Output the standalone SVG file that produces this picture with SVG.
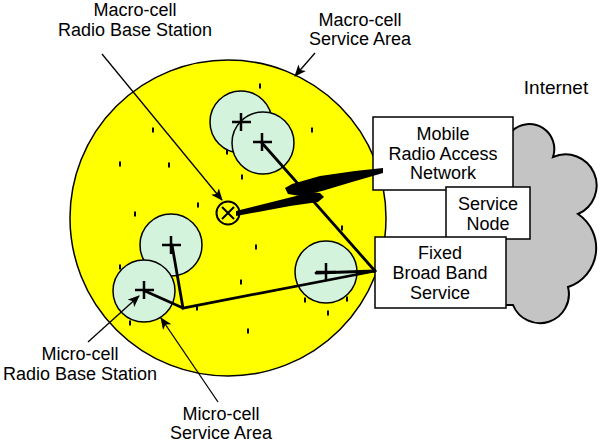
<svg xmlns="http://www.w3.org/2000/svg" width="600" height="442" viewBox="0 0 600 442">
<defs>
<style>
text{font-family:"Liberation Sans",Arial,sans-serif;font-size:18px;fill:#000;text-anchor:middle}
.macro{fill:#ffff00;stroke:#000;stroke-width:1.5}
.micro{fill:#d3f3dc;stroke:#000;stroke-width:1.5}
.tick{stroke:#000;stroke-width:2;fill:none}
.cross{stroke:#000;stroke-width:2.5;fill:none}
.link{stroke:#000;stroke-width:2.8;fill:none;stroke-linecap:round}
.ptr{stroke:#000;stroke-width:1.3;fill:none;marker-end:url(#ah)}
.box{fill:#fff;stroke:#000;stroke-width:1.5}
.cloud{fill:#c4c4c4;stroke:#000;stroke-width:2}
</style>
<marker id="ah" viewBox="0 0 12 10" refX="11" refY="5" markerWidth="12" markerHeight="10" markerUnits="userSpaceOnUse" orient="auto">
<path d="M0,0 L12,5 L0,10 L3,5 Z" fill="#000"/>
</marker>
</defs>

<g id="internet-cloud">
<path class="cloud" d="M505,132 L512,131 A25,25 0 0 1 553,157 A31,31 0 0 1 578,214 A41,41 0 0 1 568,287 A29,29 0 0 1 513,305 L505,305 Z"/>
</g>

<g id="macro-cell-area">
<circle class="macro" cx="228" cy="218" r="158"/>
<path class="tick" d="M260,83.5v5 M153,127.5v5 M312,127.5v5 M120,161.5v5 M169,162.5v5 M242,174.5v5 M227,149.5v5 M198,202.5v5 M135,211.5v5 M256,244.5v5 M342,225.5v5 M241,279.5v5 M120,264.5v5 M197,305.5v5 M130,320.5v5 M248,328.5v5 M305,297.5v5 M347,296.5v5 M328,310.5v5"/>
</g>

<g id="micro-cell-a"><circle class="micro" cx="241" cy="122" r="31"/></g>
<g id="micro-cell-b"><circle class="micro" cx="263" cy="143" r="31"/></g>
<g id="micro-cell-c"><circle class="micro" cx="171" cy="245" r="31"/></g>
<g id="micro-cell-d"><circle class="micro" cx="144" cy="291" r="31"/></g>
<g id="micro-cell-e"><circle class="micro" cx="326" cy="272" r="31"/></g>

<g id="mobile-ran">
<rect class="box" x="373" y="117" width="140" height="73"/>
<text x="443" y="140">Mobile</text>
<text x="443" y="160">Radio Access</text>
<text x="443" y="179">Network</text>
</g>
<g id="service-node">
<rect class="box" x="446" y="187" width="84" height="52"/>
<text x="488" y="210">Service</text>
<text x="488" y="230">Node</text>
</g>
<g id="fixed-broadband">
<rect class="box" x="375" y="237" width="131" height="71"/>
<text x="440" y="259">Fixed</text>
<text x="440" y="279">Broad Band</text>
<text x="440" y="299">Service</text>
</g>

<g id="connectors">
<path class="link" d="M262,143 L375,271"/>
<path class="link" d="M316,273 L375,271"/>
<path class="link" d="M172,245 L183,308 L375,271"/>
<path class="link" d="M145,291 L183,308"/>
<path d="M236,211 L280,200 L312,192 L320,193 L324,197 L318,202 L290,206 L236,216 Z" fill="#000"/>
<path d="M288,194 L285,188 L292,184 L320,176 L355,171 L383,168 L383,173 L352,182 L322,191 L300,196 Z" fill="#000"/>
<path class="ptr" d="M102,54 L222,200"/>
<path class="ptr" d="M315,53 L295,76"/>
<path class="ptr" d="M88,342 L139,296"/>
<path class="ptr" d="M218,402 L161,318"/>
</g>

<g id="micro-rbs">
<path class="cross" d="M232,122h19M241,113v18 M253,142h19M262,133v18 M162,245h19M171,236v18 M135,290h19M144,281v18 M316,272h20M326,263v18"/>
</g>

<g id="macro-rbs">
<circle cx="228" cy="213" r="11.5" fill="none" stroke="#000" stroke-width="2"/>
<path d="M222,207 L234,219 M234,207 L222,219" stroke="#000" stroke-width="2"/>
</g>

<g id="labels">
<text x="135" y="16">Macro-cell</text>
<text x="135" y="36">Radio Base Station</text>
<text x="360" y="26">Macro-cell</text>
<text x="360" y="45">Service Area</text>
<text x="556" y="94" style="font-size:19px">Internet</text>
<text x="80" y="360">Micro-cell</text>
<text x="80" y="380">Radio Base Station</text>
<text x="221" y="420">Micro-cell</text>
<text x="221" y="439">Service Area</text>
</g>
</svg>
